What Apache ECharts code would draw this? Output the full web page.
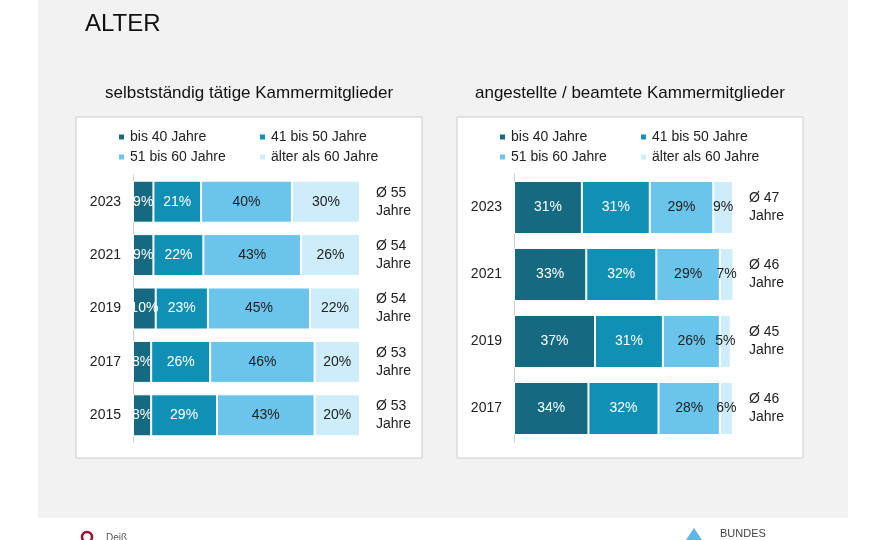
<!DOCTYPE html>
<html>
<head>
<meta charset="utf-8"/>
<script src="https://cdn.jsdelivr.net/npm/echarts@6/dist/echarts.min.js"></script>
<style>html,body{margin:0;padding:0;background:#fff}#chart{width:880px;height:540px}</style>
</head>
<body>
<div id="chart"></div>
<script>
var groups = ['bis 40 Jahre', '41 bis 50 Jahre', '51 bis 60 Jahre', 'älter als 60 Jahre'];
var colors = ['#156a82', '#1190b6', '#6bc4ec', '#cdedfa'];
var labelColors = ['#fff', '#fff', '#222', '#222'];

// selbstständig tätige
var yearsLeft = ['2023', '2021', '2019', '2017', '2015'];
var left40 = [9, 9, 10, 8, 8];
var left50 = [21, 22, 23, 26, 29];
var left60 = [40, 43, 45, 46, 43];
var leftOld = [30, 26, 22, 20, 20];
var avgLeft = ['Ø 55\nJahre', 'Ø 54\nJahre', 'Ø 54\nJahre', 'Ø 53\nJahre', 'Ø 53\nJahre'];

// angestellte / beamtete
var yearsRight = ['2023', '2021', '2019', '2017'];
var right40 = [31, 33, 37, 34];
var right50 = [31, 32, 31, 32];
var right60 = [29, 29, 26, 28];
var rightOld = [9, 7, 5, 6];
var avgRight = ['Ø 47\nJahre', 'Ø 46\nJahre', 'Ø 45\nJahre', 'Ø 46\nJahre'];

var font = 'Liberation Sans, Arial, sans-serif';
var chart = echarts.init(document.getElementById('chart'));

var makeSeries = function (idx, dataSets, barWidth) {
    return dataSets.map(function (d, i) {
        return {
            name: groups[i], type: 'bar', stack: 's' + idx,
            xAxisIndex: idx, yAxisIndex: idx * 2,
            data: d, barWidth: barWidth,
            itemStyle: {color: colors[i], borderColor: '#fff', borderWidth: 1},
            label: {show: true, formatter: '{c}%', color: labelColors[i], fontSize: 14, fontFamily: font},
            emphasis: {disabled: true}
        };
    });
};

var legends = [];
var legendPos = [[112, 125], [253, 125], [112, 145], [253, 145]];
[0, 381].forEach(function (dx) {
    legendPos.forEach(function (p, i) {
        legends.push({
            data: [groups[i]], left: p[0] + dx, top: p[1], itemWidth: 7, itemHeight: 7, itemGap: 0,
            icon: 'rect', textStyle: {fontSize: 14, color: '#222', fontFamily: font}, selectedMode: false
        });
    });
});

var yAxisPair = function (gi, cats, avgs) {
    return [
        {type: 'category', gridIndex: gi, data: cats, inverse: true,
         axisTick: {show: false}, axisLine: {lineStyle: {color: '#ccc'}},
         axisLabel: {fontSize: 14, color: '#222', fontFamily: font, margin: 12}},
        {type: 'category', gridIndex: gi, data: avgs, inverse: true, position: 'right',
         axisTick: {show: false}, axisLine: {show: false},
         axisLabel: {fontSize: 14, color: '#222', fontFamily: font, margin: 16, align: 'left', lineHeight: 18}}
    ];
};

var option = {
    backgroundColor: '#fff',
    animation: false,
    graphic: [
        {type: 'rect', shape: {x: 38, y: 0, width: 810, height: 518}, style: {fill: '#f2f2f2'}, z: -10},
        {type: 'rect', shape: {x: 76, y: 117, width: 346, height: 341}, style: {fill: '#fff', stroke: '#ccc', lineWidth: 1}, z: -5},
        {type: 'rect', shape: {x: 457, y: 117, width: 346, height: 341}, style: {fill: '#fff', stroke: '#ccc', lineWidth: 1}, z: -5},
        {type: 'text', left: 85, top: 12, style: {text: 'ALTER', fontSize: 24, fill: '#111', fontFamily: font}},
        {type: 'text', left: 105, top: 85, style: {text: 'selbstständig tätige Kammermitglieder', fontSize: 17, fill: '#111', fontFamily: font}},
        {type: 'text', left: 475, top: 85, style: {text: 'angestellte / beamtete Kammermitglieder', fontSize: 17, fill: '#111', fontFamily: font}},
        {type: 'circle', shape: {cx: 87, cy: 537, r: 5}, style: {fill: 'none', stroke: '#a0102a', lineWidth: 2.5}},
        {type: 'text', left: 106, top: 533, style: {text: 'Deiß', fontSize: 10, fill: '#555', fontFamily: font}},
        {type: 'polygon', shape: {points: [[686, 540], [694, 528], [702, 540]]}, style: {fill: '#5ab8e4'}},
        {type: 'text', left: 720, top: 528, style: {text: 'BUNDES', fontSize: 11, fill: '#444', fontFamily: font}}
    ],
    legend: legends,
    grid: [
        {left: 133, top: 175, width: 227, height: 267},
        {left: 514, top: 174, width: 219, height: 268}
    ],
    xAxis: [
        {type: 'value', gridIndex: 0, min: 0, max: 100, show: false},
        {type: 'value', gridIndex: 1, min: 0, max: 100, show: false}
    ],
    yAxis: yAxisPair(0, yearsLeft, avgLeft).concat(yAxisPair(1, yearsRight, avgRight)),
    series: makeSeries(0, [left40, left50, left60, leftOld], 42)
        .concat(makeSeries(1, [right40, right50, right60, rightOld], 53))
};
chart.setOption(option);
</script>
</body>
</html>
